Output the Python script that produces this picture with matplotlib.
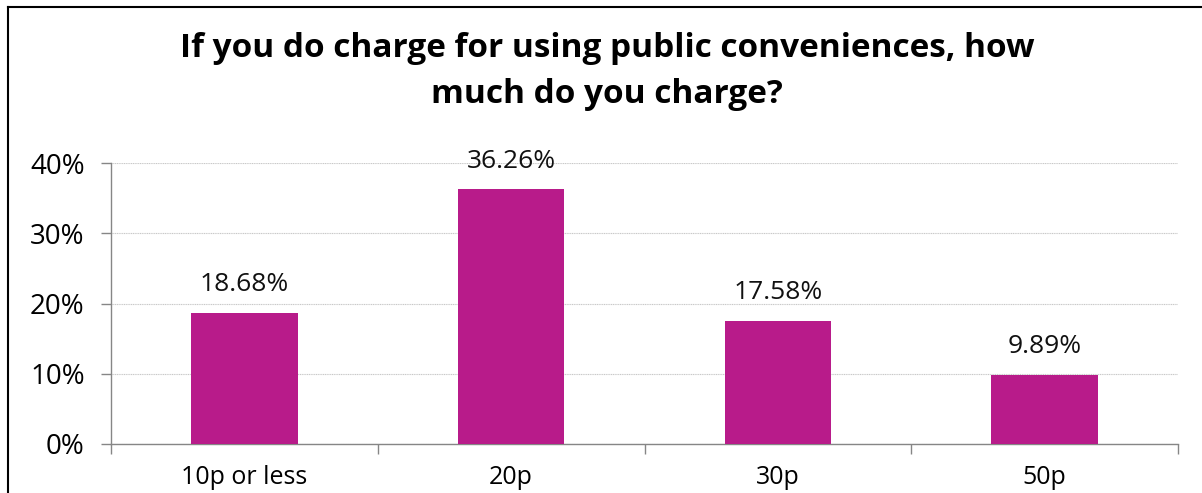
import matplotlib
matplotlib.use("Agg")
import matplotlib.pyplot as plt
from matplotlib.lines import Line2D
from matplotlib.ticker import FixedLocator, FuncFormatter

# survey answers: charge per use of public conveniences
categories = ['10p or less', '20p', '30p', '50p']
shares = [18.68, 36.26, 17.58, 9.89]
yticks = [0, 10, 20, 30, 40]

bar_colour = '#B81B8A'

plt.rcParams['font.family'] = ['Open Sans', 'DejaVu Sans']

fig = plt.figure(figsize=(12.02, 4.93), dpi=100)
ax = fig.add_axes([111 / 1202, 1 - 444 / 493, (1178 - 111) / 1202, (444 - 163) / 493])

xs = list(range(len(categories)))
ax.bar(xs, shares, width=0.4, color=bar_colour, zorder=3)
for x, v in zip(xs, shares):
    ax.annotate(f'{v:.2f}%', (x, v), xytext=(0, 11), textcoords='offset points',
                ha='center', va='bottom', fontsize=19, color='#111111')

ax.set_xlim(-0.5, len(categories) - 0.5)
ax.set_ylim(0, 40)
ax.set_yticks(yticks)
ax.yaxis.set_major_formatter(FuncFormatter(lambda v, p: f'{v:.0f}%'))
ax.grid(axis='y', color='#c8c8c8', linewidth=0.8, linestyle=(0, (1, 0.6)), zorder=0)

# labels under the bars, tick marks between the categories
ax.set_xticks(xs)
ax.set_xticklabels(categories)
ax.xaxis.set_minor_locator(FixedLocator([i - 0.5 for i in range(len(categories) + 1)]))
ax.tick_params(axis='x', which='major', length=0, pad=15, labelsize=18)
ax.tick_params(axis='x', which='minor', length=7, width=1, color='#868686')
ax.tick_params(axis='y', length=7, width=1, color='#868686', pad=12, labelsize=20)

for side in ['top', 'right']:
    ax.spines[side].set_visible(False)
for side in ['left', 'bottom']:
    ax.spines[side].set_color('#868686')
    ax.spines[side].set_linewidth(1)

fig.text(0.505, 0.855, 'If you do charge for using public conveniences, how\nmuch do you charge?',
         ha='center', va='center', fontsize=24, fontweight='bold', linespacing=1.5)

# frame around the chart area
top = 1 - 7 / 493
left = 8 / 1202
fig.add_artist(Line2D([left, 1], [top, top], color='black', linewidth=1.5, transform=fig.transFigure))
fig.add_artist(Line2D([left, left], [0, top], color='black', linewidth=1.5, transform=fig.transFigure))

fig.savefig('out.png', dpi=100)
